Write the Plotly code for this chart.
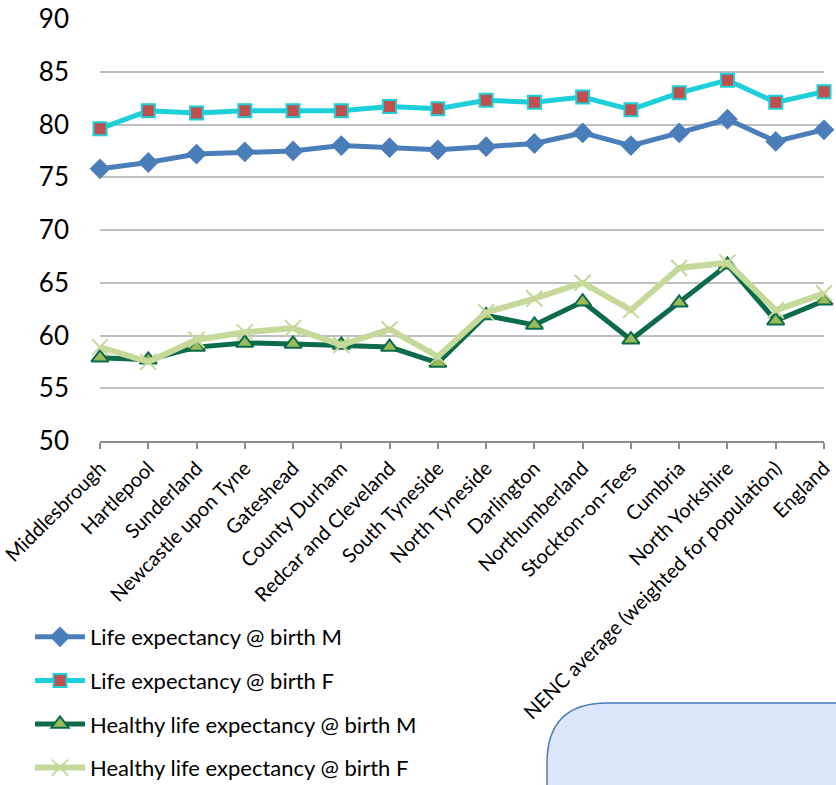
import plotly.graph_objects as go

categories = ["Middlesbrough", "Hartlepool", "Sunderland", "Newcastle upon Tyne", "Gateshead",
              "County Durham", "Redcar and Cleveland", "South Tyneside", "North Tyneside",
              "Darlington", "Northumberland", "Stockton-on-Tees", "Cumbria", "North Yorkshire",
              "NENC average (weighted for population)", "England"]

le_male = [75.8, 76.4, 77.2, 77.4, 77.5, 78.0, 77.8, 77.6, 77.9, 78.2, 79.2, 78.0, 79.2, 80.5, 78.4, 79.5]
le_female = [79.6, 81.3, 81.1, 81.3, 81.3, 81.3, 81.7, 81.5, 82.3, 82.1, 82.6, 81.4, 83.0, 84.2, 82.1, 83.1]
hle_male = [57.9, 57.7, 58.9, 59.3, 59.2, 59.1, 58.9, 57.4, 61.9, 61.0, 63.2, 59.6, 63.1, 66.7, 61.4, 63.3]
hle_female = [58.9, 57.5, 59.6, 60.3, 60.7, 59.1, 60.6, 58.0, 62.2, 63.5, 65.0, 62.4, 66.4, 66.9, 62.4, 64.0]

series_names = ["Life expectancy @ birth M", "Life expectancy @ birth F",
                "Healthy life expectancy @ birth M", "Healthy life expectancy @ birth F"]

W, H = 836, 785
L, R, T, B = 100, 12, 19, 344
pw, ph = W - L - R, H - T - B

def px_x(p):
    return (p - L) / pw

def px_y(p):
    return (H - B - p) / ph

fig = go.Figure()
fig.add_trace(go.Scatter(x=categories, y=le_male, name=series_names[0], mode="lines+markers",
                         line=dict(color="#4a7ebb", width=5),
                         marker=dict(symbol="diamond", size=16, color="#4a7ebb"),
                         legendgroup="a", cliponaxis=False))
fig.add_trace(go.Scatter(x=categories, y=le_female, name=series_names[1], mode="lines+markers",
                         line=dict(color="#1ccfd9", width=5),
                         marker=dict(symbol="square", size=13, color="#c0504d",
                                     line=dict(color="#1ccfd9", width=2)),
                         legendgroup="b", cliponaxis=False))
fig.add_trace(go.Scatter(x=categories, y=hle_male, name=series_names[2], mode="lines+markers",
                         line=dict(color="#0b6b4a", width=5),
                         marker=dict(symbol="triangle-up", size=15, color="#9bbb59",
                                     line=dict(color="#0b6b4a", width=2)),
                         legendgroup="c", cliponaxis=False))
fig.add_trace(go.Scatter(x=categories, y=hle_female, name=series_names[3], mode="lines+markers",
                         line=dict(color="#c5d99a", width=6),
                         marker=dict(symbol="x-thin", size=16, color="#c5d99a",
                                     line=dict(color="#c5d99a", width=2)),
                         legendgroup="d", cliponaxis=False))

# rounded box at bottom right
x0, y0 = px_x(547), px_y(703)
x1, y1 = px_x(860), px_y(820)
rx, ry = 60 / pw, 60 / ph
path = (f"M {x0},{y1} L {x0},{y0 - ry} Q {x0},{y0} {x0 + rx},{y0} "
        f"L {x1},{y0} L {x1},{y1} Z")
fig.add_shape(type="path", path=path, xref="paper", yref="paper",
              fillcolor="#dce7fa", line=dict(color="#4a7ebb", width=1.5), layer="above")

fig.update_layout(
    width=W, height=H,
    margin=dict(l=L, r=R, t=T, b=B, autoexpand=False),
    paper_bgcolor="white", plot_bgcolor="white",
    font=dict(family="Lato, Open Sans, sans-serif", color="#000000"),
    showlegend=True,
    legend=dict(x=px_x(30), y=px_y(616), xanchor="left", yanchor="top",
                font=dict(size=22, color="#000000"), tracegroupgap=12,
                itemwidth=50, bgcolor="rgba(0,0,0,0)"),
    xaxis=dict(type="category", range=[0, len(categories) - 1], automargin=False,
               showgrid=False, showline=True, linecolor="#8c8c8c", linewidth=1.5,
               ticks="outside", ticklen=6, tickcolor="#8c8c8c", tickwidth=1.5,
               tickangle=-45, tickfont=dict(size=20)),
    yaxis=dict(range=[50, 90], dtick=5, showgrid=True, gridcolor="#bfbfbf", gridwidth=1.5,
               showline=False, zeroline=False, ticks="", tickfont=dict(size=26),
               ticklabelstandoff=30, automargin=False),
)

fig.write_html("out.html")
